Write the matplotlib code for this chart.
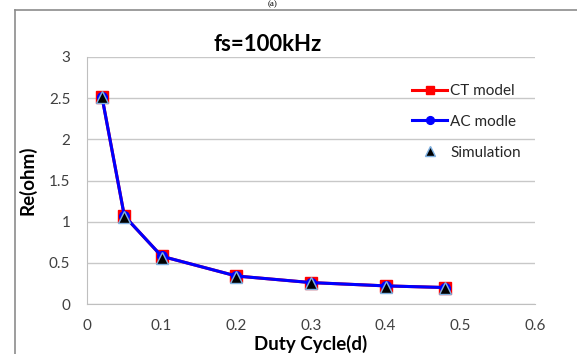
import matplotlib.pyplot as plt
from matplotlib.lines import Line2D

plt.rcParams['font.family'] = ['Lato', 'DejaVu Sans']

# duty cycle values and resistance
duty = [0.02, 0.05, 0.1, 0.2, 0.3, 0.4, 0.48]
ct_model = [2.52, 1.07, 0.58, 0.34, 0.26, 0.22, 0.20]
ac_model = [2.52, 1.07, 0.58, 0.34, 0.26, 0.22, 0.20]
simulation = [2.52, 1.06, 0.56, 0.33, 0.25, 0.21, 0.19]

W, H = 577, 354
fig = plt.figure(figsize=(W / 100, H / 100), dpi=100)
ax = fig.add_axes([87 / W, 1 - 304 / H, (535 - 87) / W, (304 - 57) / H])

ax.plot(duty, ct_model, color='red', lw=2.2, marker='s', ms=8, label='CT model', zorder=3)
ax.plot(duty, ac_model, color='blue', lw=2.2, marker='o', ms=7, label='AC modle', zorder=4)
ax.plot(duty, simulation, ls='none', marker='^', ms=9, color='black',
        markeredgecolor='#7fb0e0', mew=1, label='Simulation', zorder=5)

ax.set_xlim(0, 0.6)
ax.set_ylim(0, 3)
ax.set_xticks([0, 0.1, 0.2, 0.3, 0.4, 0.5, 0.6])
ax.set_xticklabels(['0', '0.1', '0.2', '0.3', '0.4', '0.5', '0.6'])
ax.set_yticks([0, 0.5, 1, 1.5, 2, 2.5, 3])
ax.set_yticklabels(['0', '0.5', '1', '1.5', '2', '2.5', '3'])
ax.tick_params(length=0, labelsize=11, colors='#404040')
ax.tick_params(axis='x', pad=11)
ax.tick_params(axis='y', pad=12)
ax.grid(axis='y', color='#c8c8c8', lw=1)
ax.set_axisbelow(True)
for s in ['top', 'right']:
    ax.spines[s].set_visible(False)
for s in ['left', 'bottom']:
    ax.spines[s].set_color('#bfbfbf')

ax.set_title('fs=100kHz', fontsize=16, fontweight='bold', x=(268 - 87) / (535 - 87), y=1.0, pad=4)
ax.set_xlabel('Duty Cycle(d)', fontsize=13.5, fontweight='bold', labelpad=1)
ax.set_ylabel('Re(ohm)', fontsize=13.5, fontweight='bold', labelpad=9)

leg = ax.legend(loc='upper left', bbox_to_anchor=((412 - 87) / (535 - 87), 1 - (84 - 57) / (304 - 57)),
                frameon=False, fontsize=11, labelspacing=1.1, handlelength=2.3,
                handletextpad=0.2, markerscale=0.8, borderpad=0, borderaxespad=0)
for t in leg.get_texts():
    t.set_color('#262626')

# outer chart frame
fig.add_artist(Line2D([15 / W, 15 / W], [0, 1 - 10 / H], color='#8c8c8c', lw=1.2))
fig.add_artist(Line2D([15 / W, 1], [1 - 10 / H, 1 - 10 / H], color='#8c8c8c', lw=1.2))
fig.text(273 / W, 1 - 0.5 / H, '(a)', ha='center', va='top', fontsize=6.5, family='Liberation Serif')

fig.savefig('out.png', dpi=100)
